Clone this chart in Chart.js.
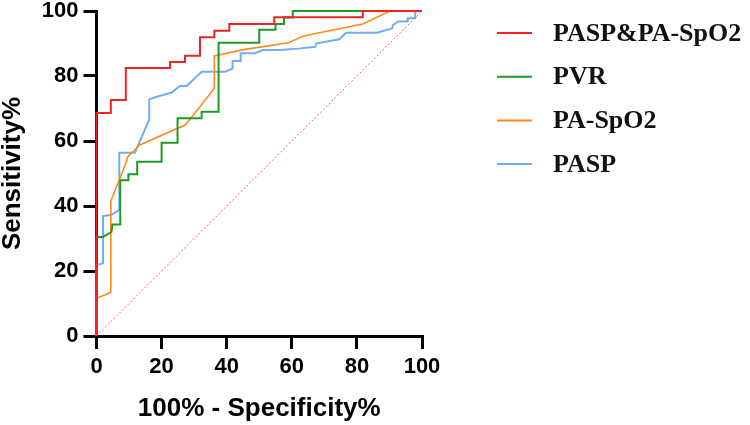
<!DOCTYPE html>
<html>
<head>
<meta charset="utf-8">
<script src="https://cdn.jsdelivr.net/npm/chart.js@4/dist/chart.umd.min.js"></script>
<style>
  body { margin: 0; background: #fff; }
  #roc { display: block; }
</style>
</head>
<body>
<canvas id="roc" width="750" height="425"></canvas>
<script>
// 100% - Specificity% (x) and Sensitivity% (y) for each curve
const comboX = [0, 0, 4.4, 4.4, 9, 9, 22.6, 22.6, 27.2, 27.2, 31.8, 31.8, 36.2, 36.2, 40.8, 40.8, 54.6, 54.6, 81.8, 81.8, 100];
const comboY = [0, 68.6, 68.6, 72.6, 72.6, 82.5, 82.5, 84.3, 84.3, 86.2, 86.2, 91.9, 91.9, 93.9, 93.9, 96, 96, 98.1, 98.1, 100, 100];

const pvrX = [0, 0, 2, 4.6, 4.9, 7.3, 7.3, 9.8, 9.8, 12.5, 12.5, 20, 20, 24.9, 24.9, 32.3, 32.3, 37.5, 37.5, 50, 50, 55, 55, 57.6, 57.6, 60.3, 60.3, 100];
const pvrY = [0, 30.5, 30.5, 32, 34.3, 34.3, 47.9, 47.9, 49.8, 49.8, 53.6, 53.6, 59.5, 59.5, 67, 67, 69, 69, 90.2, 90.2, 94.2, 94.2, 96, 96, 98, 98, 100, 100];

const paspo2X = [0, 0, 4.4, 4.4, 9, 9.5, 13.3, 27.2, 29, 33.4, 36.2, 36.2, 45.6, 59, 63.6, 81.8, 90.2, 100];
const paspo2Y = [0, 11.6, 13.4, 41.5, 53.1, 55, 58.8, 64.9, 67, 72.6, 76.2, 86.2, 88.2, 90.2, 92.3, 96, 100, 100];

const paspX = [0, 0, 2, 2, 4.5, 7, 7, 11.8, 15.9, 16.2, 16.2, 18.5, 23.1, 25.6, 27.7, 32.3, 39.5, 41.8, 41.8, 44.3, 44.3, 48.7, 51.1, 56.4, 62.6, 67.2, 67.5, 70.8, 74.6, 76.7, 86.2, 90.8, 91.1, 92.8, 95.6, 95.6, 97.9, 97.9, 100];
const paspY = [0, 21.8, 22.4, 36.9, 37.2, 38.8, 56.4, 56.4, 65.9, 66.5, 72.8, 73.6, 74.9, 76.9, 76.9, 81.3, 81.3, 82.3, 84.6, 84.6, 87, 87, 88, 88, 88.5, 89, 90, 90.6, 91.3, 93.3, 93.3, 94.6, 95.7, 96.8, 96.8, 97.8, 97.8, 100, 100];

const refX = [0, 100];
const refY = [0, 100];

const seriesNames = ["PASP&PA-SpO2", "PVR", "PA-SpO2", "PASP"];
const tickValues = [0, 20, 40, 60, 80, 100];

const colors = ["#f02424", "#1f9a23", "#ff8a1c", "#72adf2"];

const toPoints = (xs, ys) => xs.map((x, i) => ({ x: x, y: ys[i] }));

const curves = [
    [comboX, comboY],
    [pvrX, pvrY],
    [paspo2X, paspo2Y],
    [paspX, paspY],
];

const datasets = curves.map((c, i) => ({
    label: seriesNames[i],
    data: toPoints(c[0], c[1]),
    borderColor: colors[i],
    borderWidth: i == 2 ? 1.6 : 2,
    showLine: true,
    pointRadius: 0,
    fill: false,
    tension: 0,
    clip: false,
}));

datasets.push({
    label: "",
    data: toPoints(refX, refY),
    borderColor: "#ff5a5a",
    borderWidth: 1,
    borderDash: [2, 2],
    showLine: true,
    pointRadius: 0,
    clip: false,
});

// legend drawn by hand so it sits where the original has it
const sideLegend = {
    id: "sideLegend",
    afterDraw(chart) {
        const ctx = chart.ctx;
        ctx.save();
        ctx.font = "bold 26px 'Liberation Serif', 'Times New Roman', serif";
        ctx.textBaseline = "middle";
        ctx.textAlign = "left";
        chart.data.datasets.forEach((ds, i) => {
            if (!ds.label) return;
            const y = 33 + i * 43.7;
            ctx.strokeStyle = ds.borderColor;
            ctx.lineWidth = 2;
            ctx.beginPath();
            ctx.moveTo(497, y);
            ctx.lineTo(532, y);
            ctx.stroke();
            ctx.fillStyle = "#111";
            ctx.fillText(ds.label, 553, y + 1);
        });
        ctx.restore();
    }
};

const axisFont = { family: "'Liberation Sans', Arial, sans-serif", size: 22, weight: "bold" };
const titleFont = { family: "'Liberation Sans', Arial, sans-serif", size: 26, weight: "bold" };

const axisCommon = {
    type: "linear",
    min: 0,
    max: 100,
    afterBuildTicks: (scale) => {
        scale.ticks = tickValues.map(v => ({ value: v }));
    },
    border: { display: true, color: "#000", width: 3 },
    grid: {
        drawOnChartArea: false,
        drawTicks: true,
        tickLength: 13,
        color: "#000",
        lineWidth: 3,
    },
    ticks: {
        color: "#000",
        font: axisFont,
        padding: 5,
        maxRotation: 0,
        autoSkip: false,
    },
};

new Chart(document.getElementById("roc"), {
    type: "scatter",
    data: { datasets },
    plugins: [sideLegend],
    options: {
        responsive: false,
        animation: false,
        layout: { padding: { top: 11, left: 0, right: 328, bottom: 0 } },
        plugins: {
            legend: { display: false },
            tooltip: { enabled: false },
        },
        scales: {
            x: {
                ...axisCommon,
                position: "bottom",
                afterFit: (s) => {
                    s.height = 89;
                    s.paddingLeft = 0;
                    s.paddingRight = 0;
                },
                title: {
                    display: true,
                    text: "100% - Specificity%",
                    color: "#000",
                    font: { ...titleFont, lineHeight: 1.2 },
                    padding: { top: 0, bottom: 1 },
                },
            },
            y: {
                ...axisCommon,
                position: "left",
                afterFit: (s) => {
                    s.width = 96.5;
                    s.paddingTop = 0;
                    s.paddingBottom = 0;
                },
                title: {
                    display: true,
                    text: "Sensitivity%",
                    color: "#000",
                    font: { ...titleFont, lineHeight: 1 },
                    padding: { top: 0, bottom: 0 },
                },
            },
        },
    },
});
</script>
</body>
</html>
